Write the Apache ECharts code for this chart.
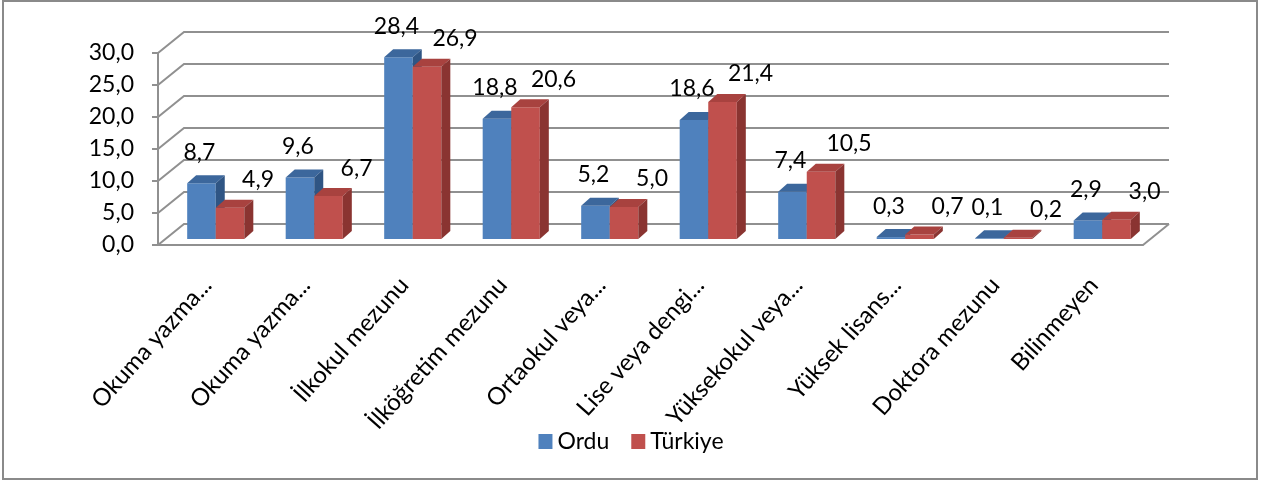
<!DOCTYPE html>
<html>
<head>
<meta charset="utf-8">
<script src="https://cdn.jsdelivr.net/npm/echarts@6/dist/echarts.min.js"></script>
<style>
  html, body { margin: 0; padding: 0; background: #fff; }
  #chart { width: 1262px; height: 484px; }
</style>
</head>
<body>
<div id="chart"></div>
<script>
  // data
  const categories = ['Okuma yazma...', 'Okuma yazma...', 'İlkokul mezunu', 'İlköğretim mezunu',
    'Ortaokul veya...', 'Lise veya dengi...', 'Yüksekokul veya...', 'Yüksek lisans...',
    'Doktora mezunu', 'Bilinmeyen'];
  const ordu = [8.7, 9.6, 28.4, 18.8, 5.2, 18.6, 7.4, 0.3, 0.1, 2.9];
  const turkiye = [4.9, 6.7, 26.9, 20.6, 5.0, 21.4, 10.5, 0.7, 0.2, 3.0];
  const yTicks = [0, 5, 10, 15, 20, 25, 30];

  const FONT = 'Lato';
  const GRID_COLOR = '#909090';
  const WALL_DX = 26, WALL_DY = 21;  // back wall offset
  const BAR_DX = 8.5, BAR_DY = 6;    // bars stand a bit behind the front axis
  const BOX_DX = 9, BOX_DY = 8;      // depth of a bar

  const fmt = v => v.toFixed(1).replace('.', ',');

  // side wall diagonal + back wall gridline for one tick value
  function renderWall(params, api) {
    const cs = params.coordSys;
    const y = api.coord([0, api.value(1)])[1];
    const x0 = cs.x, x1 = cs.x + cs.width;
    const children = [{
      type: 'polyline',
      shape: { points: [[x0, y], [x0 + WALL_DX, y - WALL_DY], [x1 + WALL_DX, y - WALL_DY]] },
      style: { stroke: GRID_COLOR, lineWidth: 2, fill: null }
    }];
    if (api.value(1) === 0) {
      children.push({
        type: 'line',
        shape: { x1: x1, y1: y, x2: x1 + WALL_DX, y2: y - WALL_DY },
        style: { stroke: GRID_COLOR, lineWidth: 2 }
      });
    }
    return { type: 'group', children: children };
  }

  function makeBar(side, front, top, right, labelDx, labelDy) {
    return function (params, api) {
      const i = api.value(0), v = api.value(1);
      const pTop = api.coord([i, v]);
      const pBase = api.coord([i, 0]);
      const bw = api.size([1, 0])[0] * 0.29;
      const x0 = pTop[0] + side * bw + BAR_DX;
      const x1 = x0 + bw;
      const yt = pTop[1] - BAR_DY;
      const yb = pBase[1] - BAR_DY;
      return {
        type: 'group',
        children: [
          { type: 'rect', shape: { x: x0, y: yt, width: bw, height: yb - yt }, style: { fill: front } },
          { type: 'polygon', shape: { points: [[x0, yt], [x1, yt], [x1 + BOX_DX, yt - BOX_DY], [x0 + BOX_DX, yt - BOX_DY]] }, style: { fill: top } },
          { type: 'polygon', shape: { points: [[x1, yt], [x1 + BOX_DX, yt - BOX_DY], [x1 + BOX_DX, yb - BOX_DY], [x1, yb]] }, style: { fill: right } },
          {
            type: 'text',
            style: {
              text: fmt(v), x: (x0 + x1) / 2 + labelDx, y: yt + labelDy,
              fill: '#000', fontFamily: FONT, fontSize: 23, align: 'center', verticalAlign: 'middle'
            }
          }
        ]
      };
    };
  }

  const chart = echarts.init(document.getElementById('chart'));
  const option = {
    animation: false,
    backgroundColor: '#fff',
    graphic: [{
      type: 'rect', shape: { x: 3, y: 1, width: 1254, height: 478 },
      style: { fill: null, stroke: '#8a8a8a', lineWidth: 2 }, silent: true
    }],
    legend: {
      top: 425, left: 'center', icon: 'rect', itemWidth: 14, itemHeight: 15, itemGap: 22,
      textStyle: { fontFamily: FONT, fontSize: 23, color: '#000' },
      data: ['Ordu', 'Türkiye']
    },
    grid: { left: 158, right: 119, top: 53, bottom: 239 },
    xAxis: {
      type: 'category',
      data: categories,
      boundaryGap: true,
      axisLine: { lineStyle: { color: GRID_COLOR, width: 2 } },
      axisTick: { length: 10, lineStyle: { color: GRID_COLOR, width: 2 } },
      axisLabel: { interval: 0, rotate: 48, margin: 36, fontFamily: FONT, fontSize: 24, color: '#000' },
      splitLine: { show: false }
    },
    yAxis: {
      type: 'value', min: 0, max: 30, interval: 5,
      axisLine: { show: true, lineStyle: { color: GRID_COLOR, width: 2 } },
      axisTick: { show: true, length: 6, lineStyle: { color: GRID_COLOR, width: 2 } },
      axisLabel: { formatter: fmt, margin: 24, fontFamily: FONT, fontSize: 23, color: '#000' },
      splitLine: { show: false }
    },
    series: [
      {
        type: 'custom', name: 'walls', silent: true, z: 1,
        data: yTicks.map(v => [0, v]),
        renderItem: renderWall
      },
      {
        type: 'custom', name: 'Ordu', z: 2,
        itemStyle: { color: '#4F81BD' },
        data: ordu.map((v, i) => [i, v]),
        renderItem: makeBar(-1, '#4F81BD', '#3C679C', '#2F5584', -2, -31)
      },
      {
        type: 'custom', name: 'Türkiye', z: 2,
        itemStyle: { color: '#C0504D' },
        data: turkiye.map((v, i) => [i, v]),
        renderItem: makeBar(0, '#C0504D', '#A8423F', '#8A3431', 28, -28)
      }
    ]
  };
  chart.setOption(option);
</script>
</body>
</html>
